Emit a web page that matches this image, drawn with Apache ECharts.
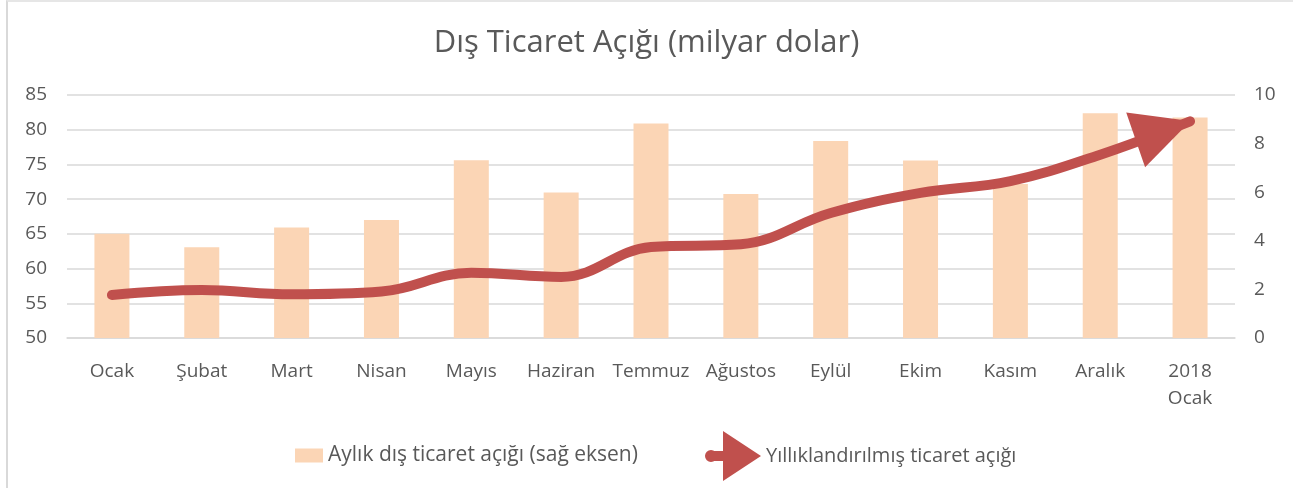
<!DOCTYPE html>
<html>
<head>
<meta charset="utf-8">
<script src="https://cdn.jsdelivr.net/npm/echarts@6/dist/echarts.min.js"></script>
<style>
  html, body { margin: 0; padding: 0; background: #fff; }
  #frame { position: absolute; left: 6px; top: 0; width: 1300px; height: 500px;
           border-left: 2px solid #d9d9d9; border-top: 2px solid #e6e6e6; box-sizing: border-box; }
  #chart { position: absolute; left: 0; top: 0; width: 1293px; height: 488px; }
</style>
</head>
<body>
<div id="frame"></div>
<div id="chart"></div>
<script>
const months = ['Ocak', 'Şubat', 'Mart', 'Nisan', 'Mayıs', 'Haziran', 'Temmuz', 'Ağustos', 'Eylül', 'Ekim', 'Kasım', 'Aralık', '2018\nOcak']
// aylık açık, sağ eksen
const monthly = [4.29, 3.73, 4.55, 4.86, 7.31, 5.99, 8.83, 5.93, 8.11, 7.30, 6.34, 9.25, 9.07]
// yıllıklandırılmış açık, sol eksen
const annual = [56.2, 56.9, 56.3, 56.7, 59.4, 58.8, 63.1, 63.5, 68.0, 70.9, 72.6, 76.4, 81.2]

const barName = 'Aylık dış ticaret açığı (sağ eksen)'
const lineName = 'Yıllıklandırılmış ticaret açığı'
const textColor = '#595959'
const font = 'Open Sans'

let myChart = echarts.init(document.getElementById('chart'))

// last point gets the arrow head
const lineData = annual.map((v, i) => {
  if (i < annual.length - 1) return v
  return {
    value: v,
    symbol: 'triangle',
    symbolSize: [58, 58],
    symbolRotate: -71,
    symbolOffset: [-27, 9]
  }
})

let option = {
  animation: false,
  textStyle: { fontFamily: font, color: textColor },
  title: {
    text: 'Dış Ticaret Açığı (milyar dolar)',
    left: 'center',
    top: 23,
    textStyle: { fontFamily: font, fontSize: 31, fontWeight: 'normal', color: textColor }
  },
  legend: [
    {
      data: [barName],
      left: 290,
      top: 440,
      itemWidth: 28,
      itemHeight: 14,
      itemGap: 7,
      icon: 'rect',
      textStyle: { fontFamily: font, fontSize: 21, color: textColor }
    },
    {
      data: [lineName],
      left: 700,
      top: 426,
      itemWidth: 56,
      itemHeight: 50,
      itemGap: 6,
      icon: 'path://M0,25 A6,6 0 1,1 12,25 A6,6 0 1,1 0,25 Z M6,20 L20,20 L20,30 L6,30 Z M18,0 L56,25 L18,50 Z',
      textStyle: { fontFamily: font, fontSize: 20, color: textColor }
    }
  ],
  grid: { left: 67, right: 58, top: 95, bottom: 150 },
  xAxis: {
    type: 'category',
    data: months,
    axisTick: { show: false },
    axisLine: { lineStyle: { color: '#d9d9d9', width: 1.5 } },
    axisLabel: { color: textColor, fontSize: 19, margin: 20, lineHeight: 27, interval: 0 }
  },
  yAxis: [
    {
      type: 'value',
      min: 50,
      max: 85,
      interval: 5,
      axisLine: { show: false },
      axisTick: { show: false },
      axisLabel: { color: textColor, fontSize: 19, margin: 20 },
      splitLine: { lineStyle: { color: '#d9d9d9', width: 1.5 } }
    },
    {
      type: 'value',
      min: 0,
      max: 10,
      interval: 2,
      axisLine: { show: false },
      axisTick: { show: false },
      axisLabel: { color: textColor, fontSize: 19, margin: 19 },
      splitLine: { show: false }
    }
  ],
  series: [
    {
      name: barName,
      type: 'bar',
      yAxisIndex: 1,
      data: monthly,
      barWidth: 35,
      itemStyle: { color: '#fbd5b5' }
    },
    {
      name: lineName,
      type: 'line',
      yAxisIndex: 0,
      data: lineData,
      smooth: 0.4,
      symbol: 'none',
      showSymbol: true,
      lineStyle: { color: '#c0504d', width: 10, cap: 'round' },
      itemStyle: { color: '#c0504d' },
      z: 5
    }
  ]
}

myChart.setOption(option)
</script>
</body>
</html>
